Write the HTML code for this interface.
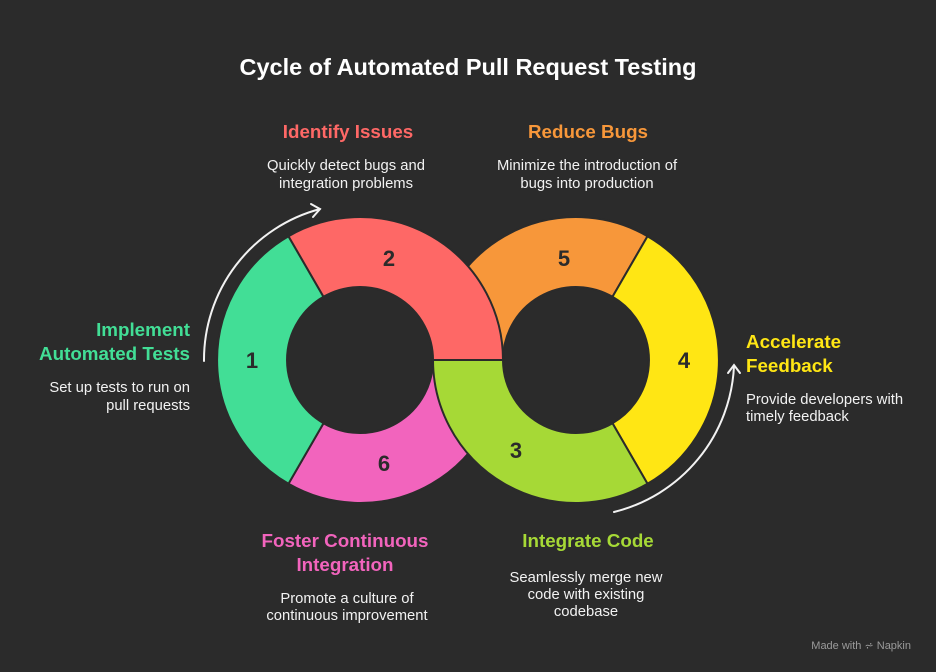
<!DOCTYPE html>
<html><head><style>
body{margin:0;background:#2b2b2b;}
svg{display:block;}
text{font-family:"Liberation Sans",sans-serif;}
.t{font-weight:bold;font-size:18.8px;}
.d{fill:#f2f2f2;font-size:14.8px;}
.n{font-weight:bold;font-size:22px;fill:#2b2b2b;text-anchor:middle;}
</style></head><body>
<svg width="936" height="672" viewBox="0 0 936 672">
<rect width="936" height="672" fill="#2b2b2b"/>
<text x="468" y="75" text-anchor="middle" fill="#fff" font-weight="bold" font-size="23.5">Cycle of Automated Pull Request Testing</text>
<g stroke="#2b2b2b" stroke-width="2" stroke-linejoin="round">
<path d="M503,360 A143,143 0 0 1 288.5,483.8 L323.5,423.2 A73,73 0 0 0 433,360 Z" fill="#f264bd"/>
<path d="M433,360 A143,143 0 0 1 647.5,236.2 L612.5,296.8 A73,73 0 0 0 503,360 Z" fill="#f7973a"/>
<path d="M647.5,236.2 A143,143 0 0 1 647.5,483.8 L612.5,423.2 A73,73 0 0 0 612.5,296.8 Z" fill="#ffe614"/>
<path d="M647.5,483.8 A143,143 0 0 1 433,360 L503,360 A73,73 0 0 0 612.5,423.2 Z" fill="#a6d936"/>
<path d="M288.5,483.8 A143,143 0 0 1 288.5,236.2 L323.5,296.8 A73,73 0 0 0 323.5,423.2 Z" fill="#42de96"/>
<path d="M288.5,236.2 A143,143 0 0 1 503,360 L433,360 A73,73 0 0 0 323.5,296.8 Z" fill="#fe6866"/>
</g>
<text class="n" x="252" y="368">1</text>
<text class="n" x="389" y="266">2</text>
<text class="n" x="516" y="458">3</text>
<text class="n" x="684" y="368">4</text>
<text class="n" x="564" y="266">5</text>
<text class="n" x="384" y="471">6</text>
<g fill="none" stroke="#f2f2f2" stroke-width="2" stroke-linecap="round">
<path d="M204,361 A156,156 0 0 1 320,209"/>
<path d="M311,204 L320,209 L313,217"/>
<path d="M614,512 A158,158 0 0 0 734,366"/>
<path d="M728,373 L734,365 L740,373"/>
</g>
<text class="t" x="348" y="138" text-anchor="middle" fill="#fe6866">Identify Issues</text>
<text class="d" x="346" y="170" text-anchor="middle">Quickly detect bugs and</text>
<text class="d" x="346" y="188" text-anchor="middle">integration problems</text>
<text class="t" x="588" y="138" text-anchor="middle" fill="#f7973a">Reduce Bugs</text>
<text class="d" x="587" y="170" text-anchor="middle">Minimize the introduction of</text>
<text class="d" x="587" y="188" text-anchor="middle">bugs into production</text>
<text class="t" x="190" y="336" text-anchor="end" fill="#42de96">Implement</text>
<text class="t" x="190" y="360" text-anchor="end" fill="#42de96">Automated Tests</text>
<text class="d" x="190" y="392" text-anchor="end">Set up tests to run on</text>
<text class="d" x="190" y="410" text-anchor="end">pull requests</text>
<text class="t" x="746" y="348" fill="#ffe614">Accelerate</text>
<text class="t" x="746" y="372" fill="#ffe614">Feedback</text>
<text class="d" x="746" y="404">Provide developers with</text>
<text class="d" x="746" y="421">timely feedback</text>
<text class="t" x="345" y="547" text-anchor="middle" fill="#f264bd">Foster Continuous</text>
<text class="t" x="345" y="571" text-anchor="middle" fill="#f264bd">Integration</text>
<text class="d" x="347" y="603" text-anchor="middle">Promote a culture of</text>
<text class="d" x="347" y="620" text-anchor="middle">continuous improvement</text>
<text class="t" x="588" y="547" text-anchor="middle" fill="#a6d936">Integrate Code</text>
<text class="d" x="586" y="582" text-anchor="middle">Seamlessly merge new</text>
<text class="d" x="586" y="599" text-anchor="middle">code with existing</text>
<text class="d" x="586" y="616" text-anchor="middle">codebase</text>
<text x="911" y="649" text-anchor="end" fill="#9a9a9a" font-size="11">Made with ⩫ Napkin</text>
</svg>
</body></html>
